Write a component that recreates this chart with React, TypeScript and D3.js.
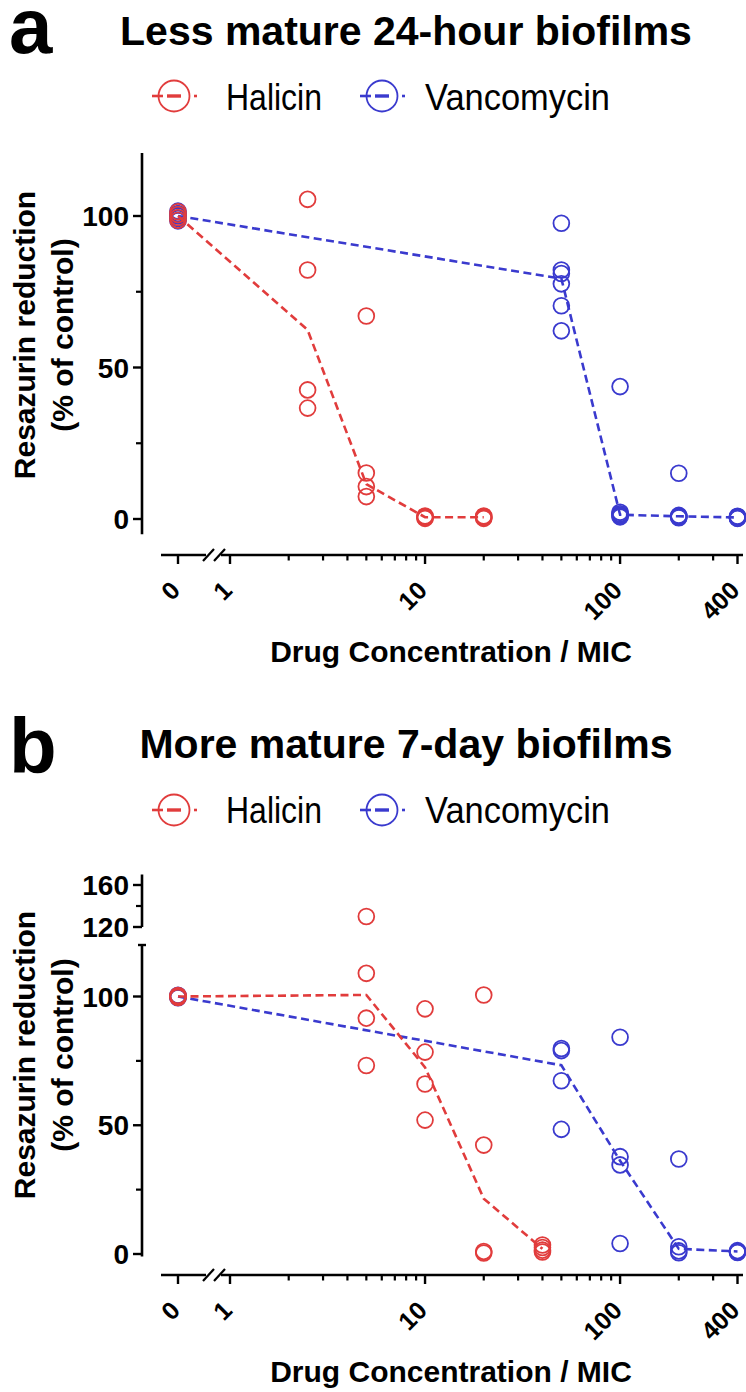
import React from 'react';
import * as d3 from 'd3';

const RED = '#e13c3c';
const BLUE = '#3a3ace';
const FONT = '"Liberation Sans", Arial, Helvetica, sans-serif';

// ---- Panel a data (Less mature 24-hour biofilms)
const halicinConcA = [0, 2.5, 5, 10, 20];
const halicinRepsA = [
  [98.6, 99.5, 100.5, 101.4],
  [105.5, 82.2, 42.6, 36.6],
  [67.0, 15.2, 10.7, 7.4],
  [1.0, 0.7, 0.4, 0.2],
  [1.0, 0.7, 0.4, 0.2],
];
const halicinLineA = [100, 62.4, 11.5, 0.6, 0.6];
const vancoConcA = [0, 50, 100, 200, 400];
const vancoRepsA = [
  [98.4, 99.2, 100.0, 100.8, 101.6, 100.3],
  [97.6, 82.2, 81.0, 77.6, 70.4, 62.1],
  [43.7, 2.2, 1.7, 1.3, 1.0, 0.7],
  [15.1, 1.2, 1.0, 0.8, 0.6, 0.4],
  [0.9, 0.7, 0.5, 0.4, 0.3, 0.2],
];
const vancoLineA = [100, 79.3, 1.4, 0.9, 0.5];

// ---- Panel b data (More mature 7-day biofilms)
const halicinConcB = [0, 5, 10, 20, 40];
const halicinRepsB = [
  [99.6, 100.0, 100.4, 100.2],
  [130.0, 109.0, 91.6, 73.2],
  [95.2, 78.4, 66.0, 52.0],
  [100.6, 42.3, 1.0, 0.4],
  [3.5, 2.5, 1.5, 0.8],
];
const halicinLineB = [100, 100.6, 72.5, 21.5, 2.0];
const vancoConcB = [0, 50, 100, 200, 400];
const vancoRepsB = [
  [99.5, 100.0, 100.5, 99.8],
  [79.8, 79.0, 67.3, 48.4],
  [84.2, 37.8, 34.6, 4.1],
  [36.9, 2.8, 1.2, 0.5],
  [1.3, 1.0, 0.8, 0.6],
];
const vancoLineB = [100, 73.3, 36.2, 2.0, 1.0];

// ---- Axis ticks
const xMajorTicks = [0, 1, 10, 100, 400];
const xTickLabels = ['0', '1', '10', '100', '400'];
const xMinorTicks = [2, 3, 4, 5, 6, 7, 8, 9, 20, 30, 40, 50, 60, 70, 80, 90, 200, 300];
const yMajorA = [0, 50, 100];
const yMinorA = [25, 75];
const yMajorBLow = [0, 50, 100];
const yMinorBLow = [25, 75];
const yMajorBHigh = [120, 160];
const yMinorBHigh = [140];

const legendNames = ['Halicin', 'Vancomycin'];
const titles = ['Less mature 24-hour biofilms', 'More mature 7-day biofilms'];
const yTitle = ['Resazurin reduction', '(% of control)'];
const xTitle = 'Drug Concentration / MIC';

const AXIS_X = 142;
const logScale = d3.scaleLog().domain([1, 400]).range([230, 737.5]);
const xPos = (v: number) => (v === 0 ? 178 : logScale(v));

type SeriesData = { conc: number[]; reps: number[][]; line: number[] };

type PanelProps = {
  letter: string;
  letterY: number;
  title: string;
  titleY: number;
  legendY: number;
  symY: number;
  axisY: number;
  yTitleC: number;
  xTitleY: number;
  y: (v: number) => number;
  yAxisSegments: { top: number; bottom: number; topCap?: boolean }[];
  yMajor: number[];
  yMinor: number[];
  hal: SeriesData;
  van: SeriesData;
};

function Series({ s, color, y }: { s: SeriesData; color: string; y: (v: number) => number }) {
  const pts = s.conc.map((c, i) => [xPos(c), y(s.line[i])] as [number, number]);
  const path = d3.line()(pts) || '';
  return (
    <g>
      <path d={path} fill="none" stroke={color} strokeWidth={2.6} strokeDasharray="8 4.5" />
      {s.conc.map((c, i) =>
        s.reps[i].map((v, j) => (
          <circle key={`${i}-${j}`} cx={xPos(c)} cy={y(v)} r={7.9} fill="none" stroke={color} strokeWidth={1.8} />
        ))
      )}
    </g>
  );
}

function LegendSym({ cx, cy, color }: { cx: number; cy: number; color: string }) {
  return (
    <g>
      <line x1={cx - 22} x2={cx - 11} y1={cy} y2={cy} stroke={color} strokeWidth={2.6} />
      <line x1={cx - 7} x2={cx + 7} y1={cy} y2={cy} stroke={color} strokeWidth={3.4} />
      <line x1={cx + 20} x2={cx + 23} y1={cy} y2={cy} stroke={color} strokeWidth={2.6} />
      <circle cx={cx} cy={cy} r={15.5} fill="none" stroke={color} strokeWidth={1.8} />
    </g>
  );
}

function Panel(p: PanelProps) {
  const ay = p.axisY;
  return (
    <g fontFamily={FONT}>
      <text x={9} y={p.letterY} fontSize={78} fontWeight="bold">{p.letter}</text>
      <text x={406} y={p.titleY} fontSize={41} fontWeight="bold" textAnchor="middle">{p.title}</text>
      <LegendSym cx={174} cy={p.symY} color={RED} />
      <text x={226} y={p.legendY} fontSize={37} textLength={96} lengthAdjust="spacingAndGlyphs">{legendNames[0]}</text>
      <LegendSym cx={382} cy={p.symY} color={BLUE} />
      <text x={425} y={p.legendY} fontSize={37} textLength={185} lengthAdjust="spacingAndGlyphs">{legendNames[1]}</text>

      {/* y axis */}
      {p.yAxisSegments.map((s, i) => (
        <g key={i}>
          <line x1={AXIS_X} x2={AXIS_X} y1={s.top} y2={s.bottom} stroke="#000" strokeWidth={2.6} />
          {s.topCap && <line x1={AXIS_X - 4} x2={AXIS_X + 4} y1={s.top} y2={s.top} stroke="#000" strokeWidth={2.4} />}
        </g>
      ))}
      {p.yMajor.map((v) => (
        <g key={`ym${v}`}>
          <line x1={AXIS_X - 9} x2={AXIS_X} y1={p.y(v)} y2={p.y(v)} stroke="#000" strokeWidth={2.4} />
          <text x={129} y={p.y(v) + 10} fontSize={28} fontWeight="bold" textAnchor="end">{v}</text>
        </g>
      ))}
      {p.yMinor.map((v) => (
        <line key={`yn${v}`} x1={AXIS_X - 6} x2={AXIS_X} y1={p.y(v)} y2={p.y(v)} stroke="#000" strokeWidth={2.2} />
      ))}
      <g transform={`translate(35,${p.yTitleC}) rotate(-90)`}>
        <text x={0} y={0} fontSize={30} fontWeight="bold" textAnchor="middle">{yTitle[0]}</text>
      </g>
      <g transform={`translate(73,${p.yTitleC}) rotate(-90)`}>
        <text x={0} y={0} fontSize={30} fontWeight="bold" textAnchor="middle">{yTitle[1]}</text>
      </g>

      {/* x axis with break */}
      <line x1={161} x2={206} y1={ay} y2={ay} stroke="#000" strokeWidth={2.6} />
      <line x1={221} x2={743} y1={ay} y2={ay} stroke="#000" strokeWidth={2.6} />
      <line x1={203} x2={214} y1={ay + 6} y2={ay - 6} stroke="#000" strokeWidth={2.2} />
      <line x1={214} x2={225} y1={ay + 6} y2={ay - 6} stroke="#000" strokeWidth={2.2} />
      {xMajorTicks.map((v, i) => (
        <g key={`xm${v}`}>
          <line x1={xPos(v)} x2={xPos(v)} y1={ay} y2={ay + 9} stroke="#000" strokeWidth={2.4} />
          <g transform={`translate(${xPos(v) + 3.5},${ay + 37}) rotate(-45)`}>
            <text x={0} y={0} fontSize={25} fontWeight="bold" textAnchor="end">{xTickLabels[i]}</text>
          </g>
        </g>
      ))}
      {xMinorTicks.map((v) => (
        <line key={`xn${v}`} x1={xPos(v)} x2={xPos(v)} y1={ay} y2={ay + 5.5} stroke="#000" strokeWidth={2.2} />
      ))}
      <text x={451} y={p.xTitleY} fontSize={30} fontWeight="bold" textAnchor="middle">{xTitle}</text>

      <Series s={p.van} color={BLUE} y={p.y} />
      <Series s={p.hal} color={RED} y={p.y} />
    </g>
  );
}

export default function App() {
  const yA = d3.scaleLinear().domain([0, 100]).range([519, 216]);
  const yBLow = d3.scaleLinear().domain([0, 120]).range([1254, 945]);
  const yBHigh = d3.scaleLinear().domain([120, 160]).range([927, 885]);
  const yBTick = (v: number) => (v >= 120 && !yMajorBLow.includes(v) ? yBHigh(v) : yBLow(v));
  const yBPoint = (v: number) => (v > 120 ? yBHigh(v) : yBLow(v));

  return (
    <svg width={746} height={1392} style={{ position: 'absolute', left: 0, top: 0, background: '#fff' }}>
      <rect x={0} y={0} width={746} height={1392} fill="#fff" />
      <Panel
        letter="a"
        letterY={53}
        title={titles[0]}
        titleY={45}
        legendY={110}
        symY={96}
        axisY={555}
        yTitleC={335}
        xTitleY={662}
        y={(v) => yA(v)}
        yAxisSegments={[{ top: yA(120.8), bottom: yA(-5) }]}
        yMajor={yMajorA}
        yMinor={yMinorA}
        hal={{ conc: halicinConcA, reps: halicinRepsA, line: halicinLineA }}
        van={{ conc: vancoConcA, reps: vancoRepsA, line: vancoLineA }}
      />
      <Panel
        letter="b"
        letterY={773}
        title={titles[1]}
        titleY={758}
        legendY={823}
        symY={810}
        axisY={1275}
        yTitleC={1055}
        xTitleY={1382}
        y={(v) => (yMajorBHigh.includes(v) || yMinorBHigh.includes(v) ? yBTick(v) : yBPoint(v))}
        yAxisSegments={[
          { top: yBHigh(170), bottom: yBHigh(120) },
          { top: yBLow(120), bottom: yBLow(-1), topCap: true },
        ]}
        yMajor={[...yMajorBLow, ...yMajorBHigh]}
        yMinor={[...yMinorBLow, ...yMinorBHigh]}
        hal={{ conc: halicinConcB, reps: halicinRepsB, line: halicinLineB }}
        van={{ conc: vancoConcB, reps: vancoRepsB, line: vancoLineB }}
      />
    </svg>
  );
}
